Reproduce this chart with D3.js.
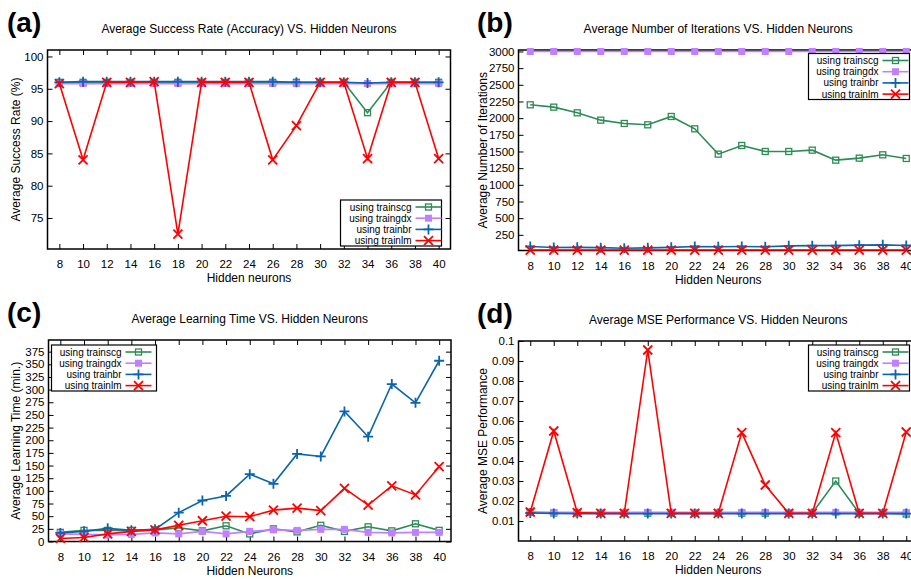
<!DOCTYPE html>
<html>
<head>
<meta charset="utf-8">
<script src="https://cdn.jsdelivr.net/npm/d3@7"></script>
<style>
  html, body { margin: 0; padding: 0; background: #fff; }
  svg { display: block; font-family: "Liberation Sans", Arial, sans-serif; }
</style>
</head>
<body>
<svg id="chart" width="911" height="579"></svg>
<script>
// Hidden-neuron counts shared by all four panels
const neurons = [8, 10, 12, 14, 16, 18, 20, 22, 24, 26, 28, 30, 32, 34, 36, 38, 40];
const seriesNames = ["using trainscg", "using traingdx", "using trainbr", "using trainlm"];

// (a) Average success rate (%)
const accTrainscg = [96.0, 96.0, 96.0, 96.0, 96.0, 96.0, 96.0, 96.0, 96.0, 96.0, 96.0, 96.0, 96.0, 91.3, 96.0, 96.0, 96.0];
const accTraingdx = [95.8, 95.8, 95.8, 95.8, 95.8, 95.8, 95.8, 95.8, 95.8, 95.8, 95.8, 95.8, 95.8, 95.8, 95.8, 95.8, 95.8];
const accTrainbr  = [96.0, 96.1, 96.1, 96.1, 96.1, 96.1, 96.1, 96.1, 96.1, 96.1, 96.0, 96.0, 96.0, 95.9, 96.0, 96.0, 96.0];
const accTrainlm  = [95.8, 84.0, 96.0, 96.0, 96.1, 72.5, 96.0, 96.0, 96.0, 84.0, 89.3, 96.0, 96.0, 84.2, 96.0, 96.0, 84.2];
const accTicks = [75, 80, 85, 90, 95, 100];

// (b) Average number of iterations
const iterTrainscg = [2200, 2165, 2080, 1970, 1920, 1900, 2025, 1840, 1460, 1590, 1500, 1500, 1520, 1370, 1400, 1450, 1395];
const iterTraingdx = [3000, 3000, 3000, 3000, 3000, 3000, 3000, 3000, 3000, 3000, 3000, 3000, 3000, 3000, 3000, 3000, 3000];
const iterTrainbr  = [75, 60, 62, 58, 48, 55, 62, 75, 72, 75, 72, 85, 88, 88, 95, 100, 90];
const iterTrainlm  = [22, 22, 22, 22, 22, 22, 22, 22, 22, 22, 22, 22, 22, 22, 22, 22, 22];
const iterTicks = [250, 500, 750, 1000, 1250, 1500, 1750, 2000, 2250, 2500, 2750, 3000];

// (c) Average learning time (min.)
const timeTrainscg = [18, 22, 22, 22, 23, 27, 21, 31, 15, 25, 19, 32, 20, 29, 21, 35, 22];
const timeTraingdx = [15, 14, 13, 14, 17, 15, 20, 15, 20, 23, 22, 24, 24, 18, 17, 18, 18];
const timeTrainbr  = [17, 20, 26, 22, 24, 57, 81, 90, 133, 114, 173, 168, 257, 207, 311, 274, 357];
const timeTrainlm  = [6, 8, 15, 20, 23, 32, 41, 50, 49, 62, 66, 61, 105, 72, 110, 92, 148];
const timeTicks = [0, 25, 50, 75, 100, 125, 150, 175, 200, 225, 250, 275, 300, 325, 350, 375];

// (d) Average MSE performance
const mseTrainscg = [0.0143, 0.0140, 0.0140, 0.0139, 0.0139, 0.0139, 0.0139, 0.0139, 0.0139, 0.0139, 0.0139, 0.0139, 0.0139, 0.0300, 0.0139, 0.0139, 0.0135];
const mseTraingdx = [0.0145, 0.0143, 0.0143, 0.0143, 0.0143, 0.0143, 0.0143, 0.0143, 0.0143, 0.0143, 0.0143, 0.0143, 0.0143, 0.0143, 0.0143, 0.0143, 0.0143];
const mseTrainbr  = [0.0140, 0.0138, 0.0137, 0.0137, 0.0137, 0.0137, 0.0137, 0.0137, 0.0137, 0.0137, 0.0137, 0.0137, 0.0137, 0.0137, 0.0137, 0.0137, 0.0137];
const mseTrainlm  = [0.0145, 0.0550, 0.0142, 0.0138, 0.0138, 0.0955, 0.0138, 0.0138, 0.0138, 0.0542, 0.0280, 0.0138, 0.0138, 0.0542, 0.0138, 0.0138, 0.0545];
const mseTicks = [0.01, 0.02, 0.03, 0.04, 0.05, 0.06, 0.07, 0.08, 0.09, 0.1];

const colors = ["#2e8b57", "#c080ff", "#0a64b0", "#ff0000"];
const markers = ["openSquare", "filledSquare", "plus", "cross"];

const svg = d3.select("#chart");

function drawMarker(g, type, x, y, color) {
  if (type === "openSquare") {
    g.append("rect").attr("x", x - 3).attr("y", y - 3).attr("width", 6).attr("height", 6)
      .attr("fill", "none").attr("stroke", color).attr("stroke-width", 1.3);
  } else if (type === "filledSquare") {
    g.append("rect").attr("x", x - 3.5).attr("y", y - 3.5).attr("width", 7).attr("height", 7)
      .attr("fill", color);
  } else if (type === "plus") {
    g.append("path").attr("d", `M${x - 5},${y}H${x + 5}M${x},${y - 5}V${y + 5}`)
      .attr("stroke", color).attr("stroke-width", 1.8);
  } else {
    g.append("path").attr("d", `M${x - 4.5},${y - 4.5}L${x + 4.5},${y + 4.5}M${x - 4.5},${y + 4.5}L${x + 4.5},${y - 4.5}`)
      .attr("stroke", color).attr("stroke-width", 1.8);
  }
}

function panel(cfg) {
  const { left, right, top, bottom } = cfg;
  const x = d3.scaleLinear().domain([7, 41]).range([left, right]);
  const y = d3.scaleLinear().domain(cfg.yDomain).range([bottom, top]);
  const g = svg.append("g");

  // panel letter
  g.append("text").attr("x", cfg.letterX).attr("y", top - 18)
    .attr("font-size", 28).attr("font-weight", "bold").attr("fill", "#000")
    .text(cfg.letter);

  // title
  g.append("text").attr("x", (left + right) / 2).attr("y", top - 17)
    .attr("text-anchor", "middle").attr("font-size", 12).attr("fill", "#000")
    .text(cfg.title);

  // axes with inward ticks on all four sides
  const tickLen = 5;
  const xb = g.append("g").attr("transform", `translate(0,${bottom})`)
    .call(d3.axisBottom(x).tickValues(neurons).tickSize(-tickLen).tickPadding(11));
  g.append("g").attr("transform", `translate(0,${top})`)
    .call(d3.axisTop(x).tickValues(neurons).tickSize(-tickLen).tickFormat(""));
  const yl = g.append("g").attr("transform", `translate(${left},0)`)
    .call(d3.axisLeft(y).tickValues(cfg.yTicks).tickSize(-tickLen).tickPadding(4)
      .tickFormat(cfg.yFormat || d3.format("d")));
  g.append("g").attr("transform", `translate(${right},0)`)
    .call(d3.axisRight(y).tickValues(cfg.yTicks).tickSize(-tickLen).tickFormat(""));
  g.selectAll(".domain").remove();
  g.selectAll(".tick line").attr("stroke", "#000").attr("stroke-width", 1);
  g.selectAll(".tick text").attr("font-size", 11.5).attr("fill", "#000")
    .attr("font-family", "Liberation Sans, Arial, sans-serif");

  // frame
  g.append("rect").attr("x", left).attr("y", top).attr("width", right - left).attr("height", bottom - top)
    .attr("fill", "none").attr("stroke", "#000").attr("stroke-width", 1.5);

  // axis labels
  g.append("text").attr("x", (left + right) / 2).attr("y", bottom + 33)
    .attr("text-anchor", "middle").attr("font-size", 12).attr("fill", "#000").text(cfg.xLabel);
  g.append("text").attr("transform", `translate(${cfg.yLabelX},${(top + bottom) / 2}) rotate(-90)`)
    .attr("text-anchor", "middle").attr("dominant-baseline", "middle")
    .attr("font-size", 12).attr("fill", "#000").text(cfg.yLabel);

  // series
  const line = d3.line().x((d, i) => x(neurons[i])).y(d => y(d));
  cfg.series.forEach((vals, k) => {
    const sg = g.append("g");
    sg.append("path").datum(vals).attr("d", line).attr("fill", "none")
      .attr("stroke", colors[k]).attr("stroke-width", 1.6);
    vals.forEach((v, i) => drawMarker(sg, markers[k], x(neurons[i]), y(v), colors[k]));
  });

  // legend
  const L = cfg.legend;
  const lg = g.append("g");
  lg.append("rect").attr("x", L.x).attr("y", L.y).attr("width", L.w).attr("height", 46)
    .attr("fill", "#fff").attr("stroke", "#000").attr("stroke-width", 1.2);
  seriesNames.forEach((name, k) => {
    const ry = L.y + 7 + k * 11.2;
    lg.append("text").attr("x", L.x + L.textRight).attr("y", ry + 3.5)
      .attr("text-anchor", "end").attr("font-size", 10).attr("fill", "#000").text(name);
    const sx0 = L.x + L.textRight + 4, sx1 = sx0 + 26;
    lg.append("line").attr("x1", sx0).attr("x2", sx1).attr("y1", ry).attr("y2", ry)
      .attr("stroke", colors[k]).attr("stroke-width", 1.6);
    drawMarker(lg, markers[k], (sx0 + sx1) / 2, ry, colors[k]);
  });
}

panel({
  letter: "(a)", letterX: 7,
  left: 47.5, right: 450.5, top: 50, bottom: 249,
  yDomain: [70.2, 101], yTicks: accTicks,
  title: "Average Success Rate (Accuracy) VS. Hidden Neurons",
  xLabel: "Hidden neurons", yLabel: "Average Success Rate (%)", yLabelX: 17,
  series: [accTrainscg, accTraingdx, accTrainbr, accTrainlm],
  legend: { x: 340.5, y: 200, w: 101, textRight: 71 }
});

panel({
  letter: "(b)", letterX: 477,
  left: 518.5, right: 918, top: 50, bottom: 250.5,
  yDomain: [15, 3022], yTicks: iterTicks,
  title: "Average Number of Iterations VS. Hidden Neurons",
  xLabel: "Hidden Neurons", yLabel: "Average Number of Iterations", yLabelX: 484,
  series: [iterTrainscg, iterTraingdx, iterTrainbr, iterTrainlm],
  legend: { x: 808.5, y: 53.5, w: 101, textRight: 70 }
});

panel({
  letter: "(c)", letterX: 7,
  left: 48.5, right: 451, top: 340, bottom: 541.5,
  yDomain: [0, 398], yTicks: timeTicks,
  title: "Average Learning Time VS. Hidden Neurons",
  xLabel: "Hidden Neurons", yLabel: "Average Learning Time (min.)", yLabelX: 17,
  series: [timeTrainscg, timeTraingdx, timeTrainbr, timeTrainlm],
  legend: { x: 51.5, y: 345, w: 105, textRight: 70 }
});

panel({
  letter: "(d)", letterX: 477,
  left: 518.5, right: 918, top: 341, bottom: 541,
  yDomain: [0, 0.1], yTicks: mseTicks, yFormat: d3.format("~g"),
  title: "Average MSE Performance VS. Hidden Neurons",
  xLabel: "Hidden Neurons", yLabel: "Average MSE Performance", yLabelX: 484,
  series: [mseTrainscg, mseTraingdx, mseTrainbr, mseTrainlm],
  legend: { x: 808.5, y: 345, w: 101, textRight: 70 }
});
</script>
</body>
</html>
